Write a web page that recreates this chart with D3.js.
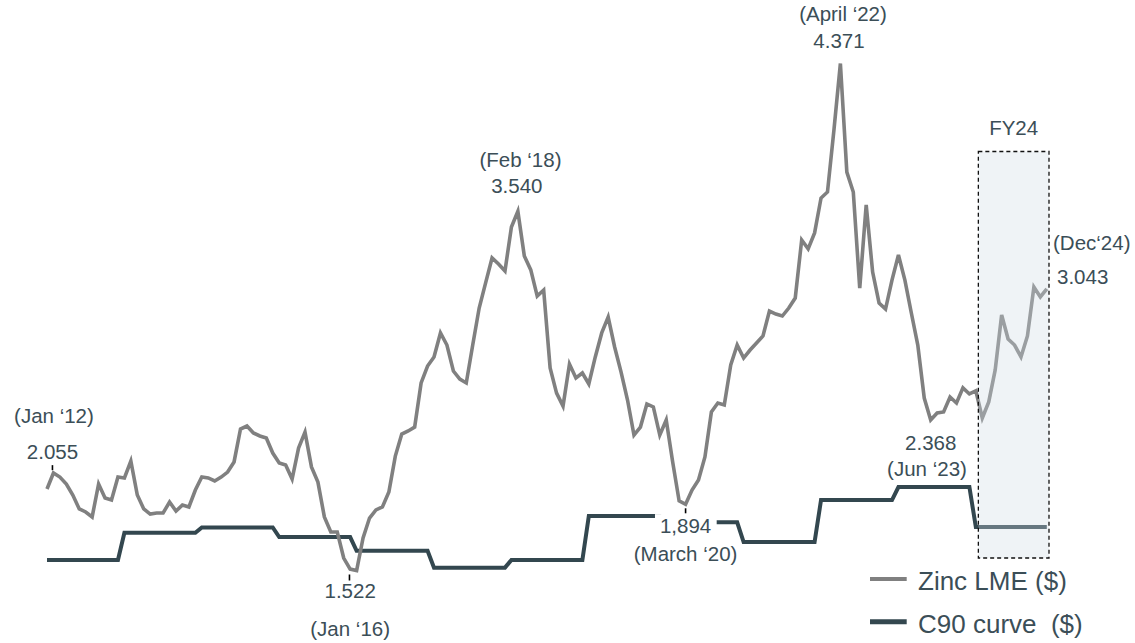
<!DOCTYPE html>
<html><head><meta charset="utf-8">
<script src="https://cdn.jsdelivr.net/npm/d3@7"></script>
<style>
html,body{margin:0;padding:0;background:#fff;}
svg{display:block;}
text{font-family:"Liberation Sans",Arial,Helvetica,sans-serif;}
</style>
</head><body>
<svg id="chart" width="1135" height="643"></svg>
<script>
// ---------- DATA ----------
// monthly categories Jan 2012 .. Dec 2024
const months = d3.timeMonth.range(new Date(2012, 0, 1), new Date(2025, 0, 1));

// Zinc LME monthly price (thousand $ / t)
const zincLME = [
  1.980, 2.070, 2.047, 2.008, 1.946, 1.868, 1.851, 1.823, 2.008, 1.929, 1.918, 2.047,
  2.042, 2.137, 1.946, 1.868, 1.839, 1.845, 1.845, 1.907, 1.856, 1.890, 1.879, 1.974,
  2.047, 2.042, 2.025, 2.047, 2.075, 2.132, 2.317, 2.334, 2.295, 2.278, 2.267, 2.182,
  2.126, 2.115, 2.036, 2.210, 2.300, 2.104, 2.019, 1.823, 1.738, 1.738, 1.592, 1.530,
  1.522, 1.705, 1.817, 1.862, 1.879, 1.963, 2.165, 2.289, 2.306, 2.328, 2.576, 2.671,
  2.722, 2.857, 2.789, 2.643, 2.598, 2.576, 2.789, 2.997, 3.138, 3.278, 3.244, 3.205,
  3.452, 3.540, 3.289, 3.211, 3.064, 3.098, 2.660, 2.519, 2.446, 2.682, 2.604, 2.632,
  2.570, 2.722, 2.857, 2.946, 2.778, 2.637, 2.480, 2.283, 2.328, 2.458, 2.441, 2.283,
  2.368, 2.132, 1.913, 1.894, 1.974, 2.031, 2.160, 2.413, 2.463, 2.452, 2.677, 2.789,
  2.716, 2.761, 2.800, 2.840, 2.980, 2.963, 2.952, 2.997, 3.053, 3.379, 3.329, 3.419,
  3.615, 3.649, 3.997, 4.371, 3.761, 3.649, 3.109, 3.576, 3.199, 3.025, 2.991, 3.154,
  3.295, 3.154, 2.969, 2.789, 2.491, 2.368, 2.407, 2.413, 2.497, 2.463, 2.548, 2.514,
  2.531, 2.379, 2.469, 2.649, 2.958, 2.823, 2.789, 2.722, 2.840, 3.115, 3.059, 3.104
];

// C90 cost curve, one level per calendar year
const c90Years  = [2012, 2013, 2014, 2015, 2016, 2017, 2018, 2019, 2020, 2021, 2022, 2023, 2024];
const c90Values = [1.581, 1.734, 1.764, 1.710, 1.633, 1.538, 1.581, 1.828, 1.793, 1.682, 1.918, 1.991, 1.766];

// annotated points
const annKeys   = ["jan12", "jan16", "feb18", "mar20", "apr22", "jun23", "dec24"];
const annIndex  = [1, 47, 73, 99, 123, 137, 155];
const annValues = [2.055, 1.522, 3.540, 1.894, 4.371, 2.368, 3.043];
const annValueText = ["2.055", "1.522", "3.540", "1,894", "4.371", "2.368", "3.043"];
const annDateText  = ["(Jan \u201812)", "(Jan \u201816)", "(Feb \u201818)", "(March \u201820)", "(April \u201822)", "(Jun \u201823)", "(Dec\u201824)"];

const fyLabel = "FY24";
const fyStartIdx = 144, fyEndIdx = 155;
const legendLabels = ["Zinc LME ($)", "C90 curve  ($)"];

// ---------- LAYOUT / STYLE ----------
const W = 1135, H = 643;
const zincColor = "#808080", c90Color = "#33474f", textColor = "#3b4e57";
const annLayout = {
  jan12: {tick:[-1,-10.5,-5.5], val:[-1,-16.6], date:[0.5,-52.6], anchor:"middle"},
  jan16: {tick:[-0.7,4,10],     val:[0,27.5],   date:[0,65],      anchor:"middle"},
  feb18: {tick:null,            val:[-1,-18.4], date:[2.6,-44.4], anchor:"middle"},
  mar20: {tick:[0,4,9],         val:[0,29.2],   date:[0,56.7],    anchor:"middle", bg:[-30.6,9.8,61.7,24]},
  apr22: {tick:null,            val:[-1.4,-15.5],date:[2.6,-42.5],anchor:"middle"},
  jun23: {tick:null,            val:[0,30],     date:[-3.7,56],   anchor:"middle"},
  dec24: {tick:null,            val:[10.2,-15.8],date:[6.2,-49.8],anchor:"start"}
};

const svg = d3.select("#chart");

const x = d3.scaleLinear().domain([0, months.length - 1]).range([47, 1046.8]);
const y = d3.scaleLinear().domain([1.522, 4.371]).range([570.5, 63.5]);

const c90Monthly = months.map(d => c90Values[c90Years.indexOf(d.getFullYear())]);

const line = d3.line().x((d, i) => x(i)).y(d => y(d));

// C90 curve
svg.append("path").datum(c90Monthly)
  .attr("d", line).attr("fill", "none")
  .attr("stroke", c90Color).attr("stroke-width", 4);

// Zinc LME
svg.append("path").datum(zincLME)
  .attr("d", line).attr("fill", "none")
  .attr("stroke", zincColor).attr("stroke-width", 3.6);

// FY24 box (translucent overlay)
const bx0 = x(fyStartIdx) + 2.5, bx1 = x(fyEndIdx) + 2.2, by0 = 151.5, by1 = 558;
svg.append("rect")
  .attr("x", bx0).attr("y", by0).attr("width", bx1 - bx0).attr("height", by1 - by0)
  .attr("fill", "rgb(206,218,227)").attr("fill-opacity", 0.33)
  .attr("stroke", "#111").attr("stroke-width", 1.3).attr("stroke-dasharray", "4,3");
svg.append("text").attr("x", (bx0 + bx1) / 2).attr("y", 135)
  .attr("text-anchor", "middle").attr("font-size", 20.5).attr("fill", textColor)
  .text(fyLabel);

// annotations
annKeys.forEach((k, i) => {
  const L = annLayout[k];
  const px = x(annIndex[i]), py = y(annValues[i]);
  if (L.bg) {
    svg.append("rect").attr("x", px + L.bg[0]).attr("y", py + L.bg[1])
      .attr("width", L.bg[2]).attr("height", L.bg[3]).attr("fill", "#fff");
  }
  if (L.tick) {
    svg.append("line").attr("x1", px + L.tick[0]).attr("x2", px + L.tick[0])
      .attr("y1", py + L.tick[1]).attr("y2", py + L.tick[2])
      .attr("stroke", "#000").attr("stroke-width", 1.6);
  }
  svg.append("text").attr("x", px + L.val[0]).attr("y", py + L.val[1])
    .attr("text-anchor", L.anchor).attr("font-size", 20.5).attr("fill", textColor)
    .text(annValueText[i]);
  svg.append("text").attr("x", px + L.date[0]).attr("y", py + L.date[1])
    .attr("text-anchor", L.anchor).attr("font-size", 20.5).attr("fill", textColor)
    .text(annDateText[i]);
});

// legend
const legColors = [zincColor, c90Color];
const legWidths = [4, 5];
const legY = [579, 621.7];
const legBase = [590, 632.5];
legendLabels.forEach((lab, i) => {
  svg.append("line").attr("x1", 870).attr("x2", 906.7)
    .attr("y1", legY[i]).attr("y2", legY[i])
    .attr("stroke", legColors[i]).attr("stroke-width", legWidths[i]);
  svg.append("text").attr("x", 918).attr("y", legBase[i])
    .attr("font-size", 26).attr("fill", textColor)
    .style("white-space", "pre")
    .text(lab);
});
</script>
</body></html>
